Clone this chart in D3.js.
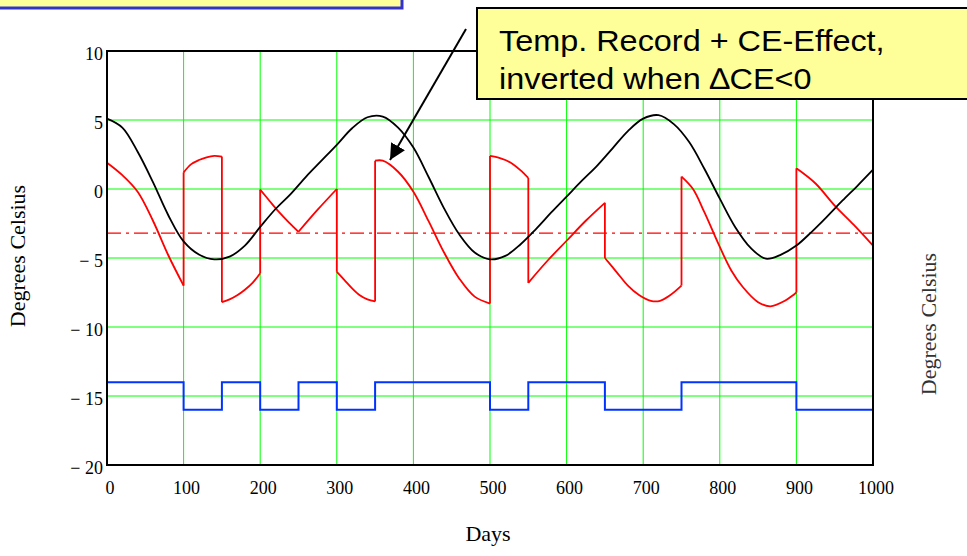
<!DOCTYPE html>
<html>
<head>
<meta charset="utf-8">
<script src="https://cdn.jsdelivr.net/npm/d3@7"></script>
<style>
  body { margin: 0; background: #fff; }
  svg { display: block; }
</style>
</head>
<body>
<div id="chart"></div>
<script>
// sample days for the temperature record
const days = d3.range(0, 1001, 20);

// temperature record (black)
const tempValues = [5.1, 4.45, 2.7, 0.5, -1.9, -3.8, -4.75, -5.1, -4.9, -4.1, -2.75,
  -1.45, -0.35, 0.9, 2.05, 3.2, 4.4, 5.2, 5.25, 4.45, 3.0, 0.85, -1.4, -3.3, -4.6, -5.1,
  -4.85, -4.0, -2.9, -1.7, -0.55, 0.6, 1.7, 2.95, 4.2, 5.1, 5.35, 4.7, 3.4, 1.45,
  -0.7, -2.75, -4.25, -5.05, -4.75, -4.1, -3.1, -2.0, -0.85, 0.25, 1.4];

// temp record + CE effect (red), one piece between each switch
const redDays = [
  [0, 20, 40, 60, 80, 100],
  [100, 110, 120, 130, 140, 150],
  [150, 160, 170, 180, 190, 200],
  [200, 212, 225, 237, 250],
  [250, 275, 300],
  [300, 310, 320, 330, 340, 350],
  [350, 360, 380, 400, 420, 440, 460, 480, 500],
  [500, 510, 520, 530, 540, 550],
  [550, 575, 600, 625, 650],
  [650, 665, 680, 695, 710, 722, 735, 750],
  [750, 765, 780, 800, 815, 830, 850, 866, 885, 900],
  [900, 925, 950, 975, 1000]
];
const redValues = [
  [1.9, 1.0, -0.2, -2.3, -4.8, -7.0],
  [1.2, 1.8, 2.1, 2.3, 2.4, 2.35],
  [-8.2, -8.0, -7.7, -7.3, -6.8, -6.1],
  [-0.05, -0.85, -1.7, -2.4, -3.1],
  [-3.1, -1.5, 0.0],
  [-6.0, -6.6, -7.2, -7.7, -8.0, -8.15],
  [2.05, 2.05, 1.25, -0.2, -2.35, -4.6, -6.5, -7.8, -8.3],
  [2.4, 2.3, 2.1, 1.8, 1.35, 0.8],
  [-6.8, -5.2, -3.75, -2.3, -1.0],
  [-5.0, -6.0, -7.0, -7.7, -8.1, -8.1, -7.7, -7.0],
  [0.9, 0.0, -1.7, -4.2, -5.9, -7.1, -8.2, -8.5, -8.1, -7.5],
  [1.5, 0.4, -1.2, -2.6, -4.1]
];

// CE state (blue square wave)
const ceDays = [0, 100, 150, 200, 250, 300, 350, 500, 550, 650, 750, 900, 1000];
const ceValues = [-14, -16, -14, -16, -14, -16, -14, -16, -14, -16, -14, -16, -16];

// mean level (red dash-dot)
const meanLevel = -3.2;

const xTicks = [0, 100, 200, 300, 400, 500, 600, 700, 800, 900, 1000];
const yTicks = [10, 5, 0, -5, -10, -15, -20];

const width = 967, height = 556;
const svg = d3.select("#chart").append("svg")
  .attr("width", width)
  .attr("height", height);

const x = d3.scaleLinear().domain([0, 1000]).range([107, 873]);
const y = d3.scaleLinear().domain([-20, 10]).range([465, 51]);

const serif = "'Liberation Serif', 'Times New Roman', serif";

// grid
const grid = svg.append("g");
grid.selectAll("line.vx")
  .data(xTicks.slice(1, -1))
  .enter().append("line")
  .attr("x1", d => x(d)).attr("x2", d => x(d))
  .attr("y1", y(10)).attr("y2", y(-20))
  .attr("stroke", "#00ff00").attr("stroke-width", 1);
grid.selectAll("line.hy")
  .data(yTicks.slice(1, -1))
  .enter().append("line")
  .attr("x1", x(0)).attr("x2", x(1000))
  .attr("y1", d => y(d)).attr("y2", d => y(d))
  .attr("stroke", "#00ff00").attr("stroke-width", 1);

// dash-dot mean line
svg.append("line")
  .attr("x1", x(0)).attr("x2", x(1000))
  .attr("y1", y(meanLevel)).attr("y2", y(meanLevel))
  .attr("stroke", "#ff0000").attr("stroke-width", 1.4)
  .attr("stroke-dasharray", "14,5,3,5");

// blue CE
const stepLine = d3.line()
  .x((d, i) => x(ceDays[i]))
  .y(d => y(d))
  .curve(d3.curveStepAfter);
svg.append("path")
  .attr("d", stepLine(ceValues))
  .attr("fill", "none")
  .attr("stroke", "#0033ff")
  .attr("stroke-width", 2);

// red pieces
const redLine = d3.line()
  .x(d => x(d[0]))
  .y(d => y(d[1]))
  .curve(d3.curveCatmullRom);
const redGroup = svg.append("g")
  .attr("fill", "none")
  .attr("stroke", "#ff0000")
  .attr("stroke-width", 1.8);
redDays.forEach((ds, k) => {
  const pts = ds.map((d, i) => [d, redValues[k][i]]);
  redGroup.append("path").attr("d", redLine(pts));
  if (k > 0) {
    // vertical jump at the switch
    const prev = redValues[k - 1];
    redGroup.append("line")
      .attr("x1", x(ds[0])).attr("x2", x(ds[0]))
      .attr("y1", y(prev[prev.length - 1])).attr("y2", y(redValues[k][0]));
  }
});

// black temperature record
const tempLine = d3.line()
  .x((d, i) => x(days[i]))
  .y(d => y(d))
  .curve(d3.curveCatmullRom);
svg.append("path")
  .attr("d", tempLine(tempValues))
  .attr("fill", "none")
  .attr("stroke", "#000")
  .attr("stroke-width", 1.8);

// plot frame
svg.append("rect")
  .attr("x", x(0)).attr("y", y(10))
  .attr("width", x(1000) - x(0)).attr("height", y(-20) - y(10))
  .attr("fill", "none")
  .attr("stroke", "#000")
  .attr("stroke-width", 2);

// tick labels
const fmt = d => d < 0 ? "\u2212 " + Math.abs(d) : String(d);
svg.append("g").selectAll("text")
  .data(yTicks)
  .enter().append("text")
  .attr("x", x(0) - 4)
  .attr("y", d => y(d) + 9)
  .attr("text-anchor", "end")
  .attr("font-family", serif)
  .attr("font-size", 18)
  .text(fmt);
svg.append("g").selectAll("text")
  .data(xTicks)
  .enter().append("text")
  .attr("x", d => x(d) + 3)
  .attr("y", 494)
  .attr("text-anchor", "middle")
  .attr("font-family", serif)
  .attr("font-size", 18)
  .text(d => d);

// axis titles
svg.append("text")
  .attr("x", 488).attr("y", 541)
  .attr("text-anchor", "middle")
  .attr("font-family", serif)
  .attr("font-size", 22)
  .text("Days");
svg.append("text")
  .attr("transform", "translate(25,256) rotate(-90)")
  .attr("text-anchor", "middle")
  .attr("font-family", serif)
  .attr("font-size", 22)
  .text("Degrees Celsius");
svg.append("text")
  .attr("transform", "translate(936,324) rotate(-90)")
  .attr("text-anchor", "middle")
  .attr("font-family", serif)
  .attr("font-size", 22)
  .attr("fill", "#333")
  .text("Degrees Celsius");

// top-left box (cut by the page edge)
svg.append("rect")
  .attr("x", -10).attr("y", -20)
  .attr("width", 412).attr("height", 28)
  .attr("fill", "#ffff99")
  .attr("stroke", "#3333cc")
  .attr("stroke-width", 3);

// annotation arrow
svg.append("defs").append("marker")
  .attr("id", "head")
  .attr("viewBox", "0 0 10 10")
  .attr("refX", 10).attr("refY", 5)
  .attr("markerWidth", 16).attr("markerHeight", 16)
  .attr("markerUnits", "userSpaceOnUse")
  .attr("orient", "auto")
  .append("path")
  .attr("d", "M0,0 L10,5 L0,10 z")
  .attr("fill", "#000");
svg.append("line")
  .attr("x1", 466).attr("y1", 29)
  .attr("x2", 390).attr("y2", 160)
  .attr("stroke", "#000")
  .attr("stroke-width", 2)
  .attr("marker-end", "url(#head)");

// annotation box
svg.append("rect")
  .attr("x", 477).attr("y", 8)
  .attr("width", 500).attr("height", 91)
  .attr("fill", "#ffff99")
  .attr("stroke", "#000")
  .attr("stroke-width", 2);
const note = svg.append("g")
  .attr("transform", "translate(499,0) scale(1.08,1)")
  .append("text")
  .attr("font-family", "'Liberation Sans', Arial, sans-serif")
  .attr("font-size", 30)
  .attr("fill", "#000");
note.append("tspan").attr("x", 0).attr("y", 51).text("Temp. Record + CE-Effect,");
note.append("tspan").attr("x", 0).attr("y", 89).text("inverted when \u2206CE<0");
</script>
</body>
</html>
